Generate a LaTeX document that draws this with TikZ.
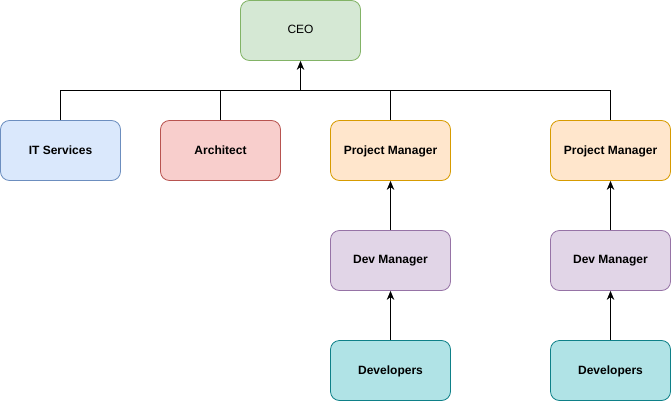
\documentclass[tikz,border=0pt]{standalone}
\usepackage{fontspec}
\setmainfont{Liberation Sans}
\usetikzlibrary{arrows.meta}
\definecolor{gfill}{HTML}{D5E8D4}\definecolor{gline}{HTML}{82B366}
\definecolor{bfill}{HTML}{DAE8FC}\definecolor{bline}{HTML}{6C8EBF}
\definecolor{rfill}{HTML}{F8CECC}\definecolor{rline}{HTML}{B85450}
\definecolor{ofill}{HTML}{FFE6CC}\definecolor{oline}{HTML}{D79B00}
\definecolor{pfill}{HTML}{E1D5E7}\definecolor{pline}{HTML}{9673A6}
\definecolor{tfill}{HTML}{B0E3E6}\definecolor{tline}{HTML}{0E8088}
\begin{document}
\begin{tikzpicture}[x=1pt,y=-1pt,
  box/.style={draw,rounded corners=9pt,minimum width=120pt,minimum height=60pt,
    inner sep=0pt,font=\fontsize{12}{14}\selectfont\bfseries,line width=0.8pt,
    text depth=1.5pt},
  ceo/.style={box,fill=gfill,draw=gline,font=\fontsize{12}{14}\selectfont},
  it/.style={box,fill=bfill,draw=bline},
  arch/.style={box,fill=rfill,draw=rline},
  pm/.style={box,fill=ofill,draw=oline},
  dm/.style={box,fill=pfill,draw=pline},
  dev/.style={box,fill=tfill,draw=tline},
  link/.style={line width=0.8pt},
  arr/.style={link,-{Stealth[length=9pt,width=7.5pt]}}]
\useasboundingbox (0,0) rectangle (671,401);
\node[ceo] (ceo) at (300.5,30.5) {CEO};
\node[it] (it) at (60.5,150.5) {IT Services};
\node[arch] (arch) at (220.5,150.5) {Architect};
\node[pm] (pm1) at (390.5,150.5) {Project Manager};
\node[pm] (pm2) at (610.5,150.5) {Project Manager};
\node[dm] (dm1) at (390.5,260.5) {Dev Manager};
\node[dm] (dm2) at (610.5,260.5) {Dev Manager};
\node[dev] (dev1) at (390.5,370.5) {Developers};
\node[dev] (dev2) at (610.5,370.5) {Developers};
\coordinate (bus) at (300.5,90.5);
\draw[link] (it.north) |- (bus) -| (pm2.north);
\draw[link] (arch.north) -- (arch.north |- bus);
\draw[link] (pm1.north) -- (pm1.north |- bus);
\draw[arr] (bus) -- (ceo.south);
\draw[arr] (dm1.north) -- (pm1.south);
\draw[arr] (dm2.north) -- (pm2.south);
\draw[arr] (dev1.north) -- (dm1.south);
\draw[arr] (dev2.north) -- (dm2.south);
\end{tikzpicture}
\end{document}
